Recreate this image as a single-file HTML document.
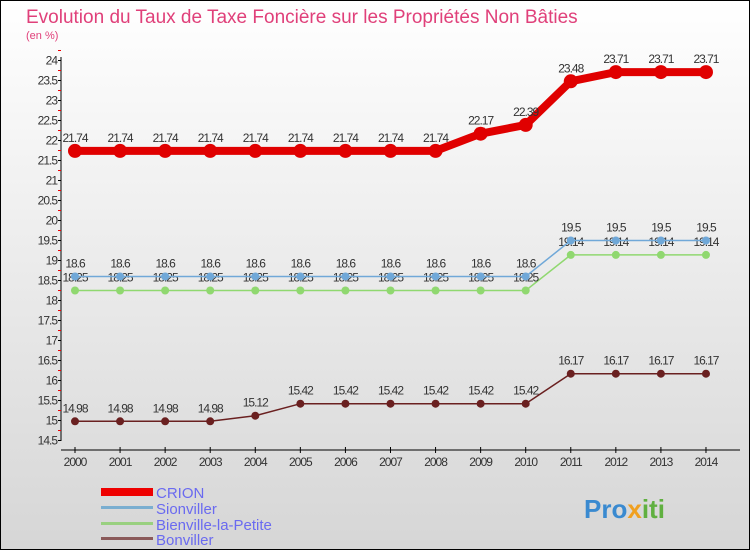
<!DOCTYPE html>
<html><head><meta charset="utf-8"><style>
body{margin:0;width:750px;height:550px;overflow:hidden;font-family:"Liberation Sans",sans-serif}
#wrap{position:relative;width:748px;height:548px;border:1px solid #000;background:linear-gradient(#fff,#d6d6d6)}
</style></head><body>
<div id="wrap">
<svg id="chart" width="748" height="548" style="position:absolute;left:0;top:0">
<text x="25" y="22" font-size="19" fill="#e0407a">Evolution du Taux de Taxe Foncière sur les Propriétés Non Bâties</text>
<text x="25" y="38" font-size="11" fill="#e0407a">(en %)</text>
<g id="axes"></g><g id="series"></g>
<g>
<rect x="100" y="487" width="52" height="8" fill="#e00"/>
<text x="155" y="497" font-size="15" fill="#6a6af0">CRION</text>
<rect x="100" y="505" width="52" height="3" fill="#7aaed0"/>
<text x="155" y="513" font-size="15" fill="#6a6af0">Sionviller</text>
<rect x="100" y="521" width="52" height="3" fill="#99d080"/>
<text x="155" y="529" font-size="15" fill="#6a6af0">Bienville-la-Petite</text>
<rect x="100" y="536" width="52" height="3" fill="#8a5a5a"/>
<text x="155" y="544" font-size="15" fill="#6a6af0">Bonviller</text>
</g>
<text x="583" y="517" font-size="26" font-weight="bold" fill="#3a8ad0">Pro<tspan fill="#f0a020">x</tspan><tspan fill="#60b040">iti</tspan></text>
</svg>
</div>
<script>
const years=[2000,2001,2002,2003,2004,2005,2006,2007,2008,2009,2010,2011,2012,2013,2014];
const crion=[21.74,21.74,21.74,21.74,21.74,21.74,21.74,21.74,21.74,22.17,22.39,23.48,23.71,23.71,23.71];
const sionviller=[18.6,18.6,18.6,18.6,18.6,18.6,18.6,18.6,18.6,18.6,18.6,19.5,19.5,19.5,19.5];
const bienville=[18.25,18.25,18.25,18.25,18.25,18.25,18.25,18.25,18.25,18.25,18.25,19.14,19.14,19.14,19.14];
const bonviller=[14.98,14.98,14.98,14.98,15.12,15.42,15.42,15.42,15.42,15.42,15.42,16.17,16.17,16.17,16.17];
const yTicks=[14.5,15,15.5,16,16.5,17,17.5,18,18.5,19,19.5,20,20.5,21,21.5,22,22.5,23,23.5,24];
const NS="http://www.w3.org/2000/svg";
const x=i=>74+i*45.07;
const y=v=>439.5-(v-14.5)*40;
function mk(tag,attrs,parent,name,txt){const e=document.createElementNS(NS,tag);for(const k in attrs)e.setAttribute(k,attrs[k]);


if(txt!==undefined)e.textContent=txt;parent.appendChild(e);return e;}
const ax=document.getElementById('axes'),sr=document.getElementById('series');
mk('line',{x1:60,y1:56,x2:60,y2:440,stroke:'#000'},ax,'y-axis');
yTicks.forEach(t=>{const yy=y(t);mk('line',{x1:57,y1:yy,x2:60,y2:yy,stroke:'#000'},ax,'y-tick');
mk('line',{x1:57,y1:yy-10,x2:60,y2:yy-10,stroke:'#e00'},ax,'y-minor-tick');
mk('text',{x:56,y:yy+4,'font-size':12,'text-anchor':'end',fill:'#333','letter-spacing':'-1'},ax,'y-tick-label',String(t));});
mk('line',{x1:60,y1:449,x2:739,y2:449,stroke:'#000'},ax,'x-axis');
years.forEach((yr,i)=>{mk('line',{x1:x(i),y1:446,x2:x(i),y2:452,stroke:'#000'},ax,'x-tick');
mk('text',{x:x(i),y:465,'font-size':12,'text-anchor':'middle',fill:'#333','letter-spacing':'-1'},ax,'x-tick-label',String(yr));});
function series(d,color,w,r,name){
mk('polyline',{points:d.map((v,i)=>x(i)+','+y(v)).join(' '),fill:'none',stroke:color,'stroke-width':w},sr,name+'-line');
d.forEach((v,i)=>{mk('circle',{cx:x(i),cy:y(v),r:r,fill:color},sr,name+'-point');
mk('text',{x:x(i),y:y(v)-9,'font-size':12,'text-anchor':'middle',fill:'#333','letter-spacing':'-1'},sr,name+'-value-label',String(v));});}
series(bonviller,'#6a2020',1.5,4,'bonviller');
series(bienville,'#90d870',1.5,4,'bienville');
series(sionviller,'#70a8d8',1.5,4,'sionviller');
series(crion,'#e00000',8,7,'crion');
</script>
</body></html>
